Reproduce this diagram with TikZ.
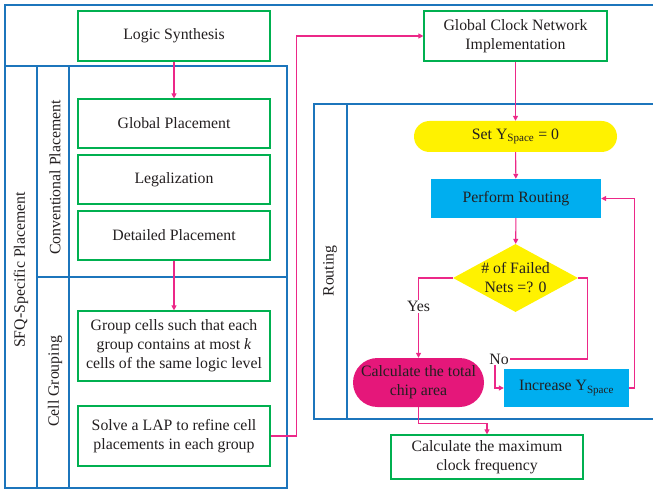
\documentclass[tikz,border=0pt]{standalone}
\usepackage{fontspec}
\setmainfont{Liberation Serif}
\usetikzlibrary{arrows.meta,shapes.geometric}
\definecolor{frameblue}{RGB}{28,117,188}
\definecolor{boxgreen}{RGB}{0,176,80}
\definecolor{linkpink}{RGB}{236,40,136}
\definecolor{stepyellow}{RGB}{255,242,0}
\definecolor{stepcyan}{RGB}{0,174,239}
\definecolor{areamagenta}{RGB}{229,23,122}
\definecolor{inkgray}{RGB}{35,31,32}
\newcommand{\diagfont}{\fontsize{15.8}{19}\selectfont}
\tikzset{
	frame/.style={draw=frameblue, line width=1.3pt},
	greenbox/.style={draw=boxgreen, line width=1.2pt, fill=white, minimum width=192pt, inner sep=0pt, align=center},
	cyanbox/.style={fill=stepcyan, inner sep=0pt, align=center},
	pill/.style={inner sep=0pt, align=center},
	link/.style={draw=linkpink, line width=1.1pt, -{Triangle[length=5pt,width=5pt]}},
	every node/.style={font=\diagfont, text=inkgray}
}
\begin{document}
\begin{tikzpicture}[x=1pt,y=-1pt]
		\useasboundingbox (0,0) rectangle (653,489);
		\clip (0,0) rectangle (653,489);
		% Cadres
		\draw[frame] (5,489) -- (5,5) -- (660,5);
		\draw[frame] (5,66) rectangle (37,488);
		\draw[frame] (37,66) rectangle (287,277);
		\draw[frame] (69,66) -- (69,277);
		\draw[frame] (37,277) rectangle (287,488);
		\draw[frame] (69,277) -- (69,488);
		\draw[frame] (314,104) rectangle (660,419);
		\draw[frame] (347,104) -- (347,419);
		\node[rotate=90] (sfq) at (21,270) {SFQ-Specific Placement};
		\node[rotate=90] (conv) at (55,177.5) {Conventional Placement};
		\node[rotate=90] (cellgrp) at (55,381.5) {Cell Grouping};
		\node[rotate=90] (routing) at (330,271) {Routing};
		
		% Étapes
		\node[greenbox, minimum height=50pt] (logic) at (174,36) {Logic Synthesis};
		\node[greenbox, minimum height=49pt] (gp) at (174,123.5) {Global Placement};
		\node[greenbox, minimum height=49pt] (leg) at (174,179.5) {Legalization};
		\node[greenbox, minimum height=49pt] (dp) at (174,235.5) {Detailed Placement};
		\node[greenbox, minimum height=70pt] (grp) at (174,346) {Group cells such that each\\group contains at most \textit{k}\\cells of the same logic level};
		\node[greenbox, minimum height=60pt] (lap) at (174,436) {Solve a LAP to refine cell\\placements in each group};
		\node[greenbox, minimum width=183pt, minimum height=50pt] (gcn) at (515.5,36) {Global Clock Network\\Implementation};
		\node[pill, fill=stepyellow, minimum width=203pt, minimum height=31pt, rounded corners=15.5pt] (setys) at (515.5,136.5) {Set Y\textsubscript{Space} = 0};
		\node[cyanbox, minimum width=170pt, minimum height=39pt] (route) at (516,198.5) {Perform Routing};
		\node[diamond, fill=stepyellow, inner sep=0pt, minimum width=125pt, minimum height=68pt,
			label={[align=center, font=\diagfont, text=inkgray]center:\# of Failed\\Nets =? 0}] (dec) at (515.5,278) {};
		\node[pill, fill=areamagenta, minimum width=131pt, minimum height=49pt, rounded corners=24.5pt] (area) at (418.5,382.5) {Calculate the total\\chip area};
		\node[cyanbox, minimum width=125pt, minimum height=38pt] (inc) at (566.5,388) {Increase Y\textsubscript{Space}};
		\node[greenbox, minimum height=44pt] (freq) at (487,457) {Calculate the maximum\\clock frequency};
		\node[inner sep=1pt] (no) at (499,359) {No};
		
		% Liaisons
		\draw[link] (logic) -- (gp);
		\draw[link] (dp) -- (grp);
		\draw[link] (lap.east) -- ++(26,0) |- (gcn.west);
		\draw[link] (gcn) -- (setys);
		\draw[link] (setys) -- (route);
		\draw[link] (route) -- (dec);
		\draw[link] (dec.west) -| node[pos=0.68, fill=white, inner sep=1pt]{Yes} (area.north);
		\draw[link, -] (dec.east) -- ++(9,0) |- (no.east);
		\draw[link] ([xshift=-4pt]no.south) |- (inc.west);
		\draw[link] (inc.east) -- ++(5,0) |- (route.east);
		\draw[link] (area.south) -- ++(0,16) -| (freq.north);
	\end{tikzpicture}
\end{document}
